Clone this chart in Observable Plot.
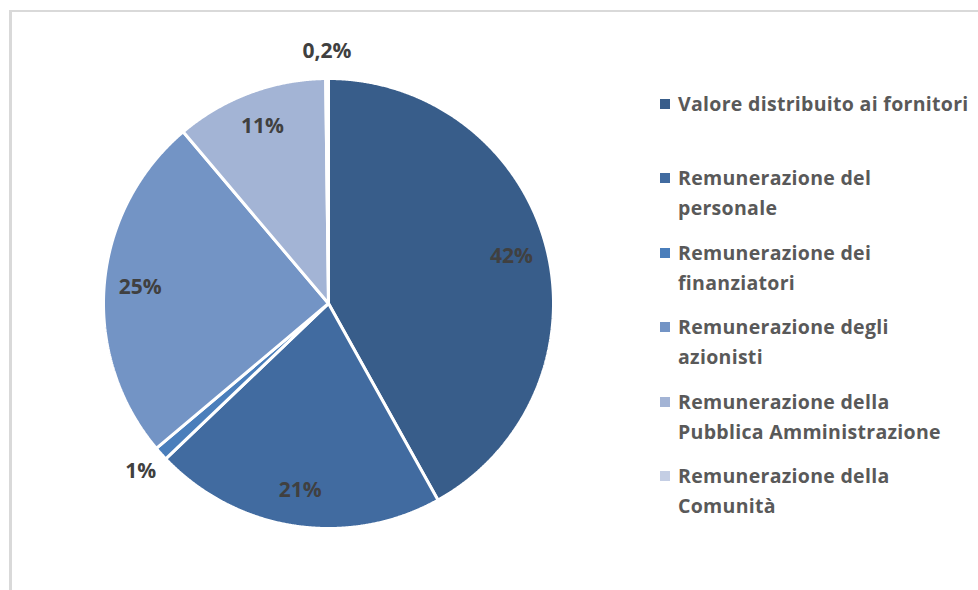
<!DOCTYPE html>
<html>
<head>
<meta charset="utf-8">
<script src="https://cdn.jsdelivr.net/npm/d3@7"></script>
<script src="https://cdn.jsdelivr.net/npm/@observablehq/plot@0.6"></script>
<style>
  html, body { margin: 0; padding: 0; background: #ffffff; }
  #wrap { position: relative; width: 978px; height: 590px; overflow: hidden; background: #fff; }
  #frame { position: absolute; left: 9px; top: 10px; width: 980px; height: 600px;
           border-top: 2.5px solid #d9d9d9; border-left: 3px solid #d9d9d9; box-sizing: border-box; }
  #chart { position: absolute; left: 0; top: 0; }
  .item { position: absolute; left: 660px; font-family: "Open Sans", sans-serif; font-weight: 700;
          font-size: 19.5px; line-height: 30px; color: #595959; letter-spacing: 0.3px; white-space: nowrap; }
  .sw { position: absolute; left: 0; width: 10px; height: 10px; }
  .txt { position: absolute; left: 18px; top: 0; }
</style>
</head>
<body>
<div id="wrap">
  <div id="frame"></div>
  <div id="chart"></div>
</div>
<script>
// ---- data ----
const categories = [
  "Valore distribuito ai fornitori",
  "Remunerazione del personale",
  "Remunerazione dei finanziatori",
  "Remunerazione degli azionisti",
  "Remunerazione della Pubblica Amministrazione",
  "Remunerazione della Comunità"
];
const legendLines = [
  ["Valore distribuito ai fornitori"],
  ["Remunerazione del", "personale"],
  ["Remunerazione dei", "finanziatori"],
  ["Remunerazione degli", "azionisti"],
  ["Remunerazione della", "Pubblica Amministrazione"],
  ["Remunerazione della", "Comunità"]
];
const values = [42, 21, 1, 25, 11, 0.2];
const colors = ["#385d8a", "#416ba0", "#4a7ebb", "#7394c5", "#a3b4d5", "#c4cee4"];

// ---- layout ----
const W = 978, H = 590;
const cx = 328, cy = 303, R = 225;

const arcs = d3.pie().sort(null).value(d => d.value).startAngle(0).endAngle(2 * Math.PI)(
  categories.map((name, i) => ({name, value: values[i]}))
);

const pts = [];
for (const a of arcs) {
  const name = a.data.name;
  pts.push({name, x: cx, y: cy});
  const span = a.endAngle - a.startAngle;
  const n = Math.max(3, Math.ceil(span / (Math.PI / 720)));
  for (let k = 0; k <= n; k++) {
    const t = a.startAngle + span * k / n;
    pts.push({name, x: cx + R * Math.sin(t), y: cy - R * Math.cos(t)});
  }
}

const fmt = v => String(v).replace(".", ",") + "%";
const labels = arcs.map(a => {
  const mid = (a.startAngle + a.endAngle) / 2;
  const small = a.data.value < 2;
  const r = small ? R * 1.12 : R * 0.84;
  return {text: fmt(a.data.value), x: cx + r * Math.sin(mid), y: cy - r * Math.cos(mid)};
});

const plot = Plot.plot({
  width: W, height: H, margin: 0,
  x: {domain: [0, W], range: [0, W], axis: null},
  y: {domain: [0, H], range: [0, H], axis: null},
  color: {domain: categories, range: colors},
  style: {background: "transparent"},
  marks: [
    Plot.line(pts, {x: "x", y: "y", z: "name", fill: "name", stroke: "white",
                    strokeWidth: 3, curve: "linear-closed", strokeLinejoin: "miter"}),
    Plot.text(labels, {x: "x", y: "y", text: "text", fill: "#404040", fontSize: 21,
                       fontWeight: "bold", fontFamily: "Open Sans, sans-serif"})
  ]
});
document.getElementById("chart").appendChild(plot);

// ---- legend ----
const wrap = document.getElementById("wrap");
legendLines.forEach((lines, i) => {
  const div = document.createElement("div");
  div.className = "item";
  div.style.top = (89 + i * 74.4) + "px";
  const sw = document.createElement("div");
  sw.className = "sw";
  sw.style.background = colors[i];
  sw.style.top = "10px";
  div.appendChild(sw);
  const t = document.createElement("div");
  t.className = "txt";
  t.innerHTML = lines.join("<br>");
  div.appendChild(t);
  wrap.appendChild(div);
});
</script>
</body>
</html>
